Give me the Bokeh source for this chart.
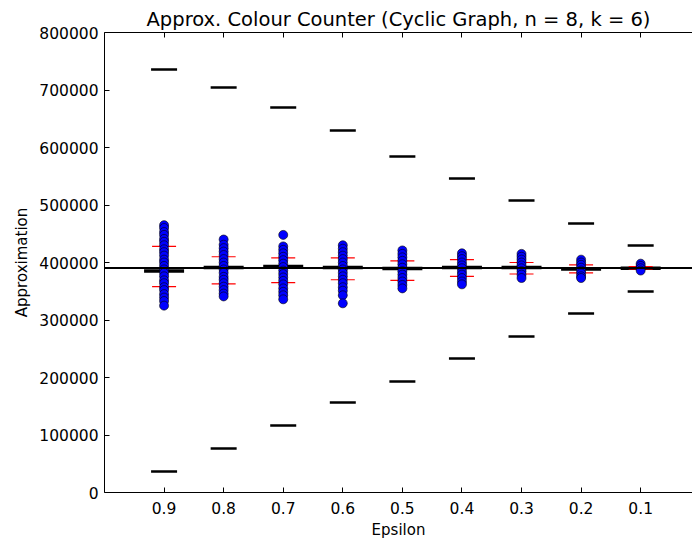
from bokeh.plotting import figure
from bokeh.models import Range1d, FixedTicker, LinearAxis, Span
from bokeh.embed import file_html
from bokeh.resources import INLINE

epsilons = [0.9, 0.8, 0.7, 0.6, 0.5, 0.4, 0.3, 0.2, 0.1]
tick_labels = ["0.9", "0.8", "0.7", "0.6", "0.5", "0.4", "0.3", "0.2", "0.1"]
true_count = 390630
upper_bound = [735600, 704300, 669600, 629600, 584300, 546100, 507800, 467800, 429600]
lower_bound = [36500, 76500, 116500, 156500, 193000, 233000, 271300, 311300, 349600]
mean_values = [385200, 391300, 393000, 391300, 389600, 391300, 391300, 388700, 390000]
std_upper = [428000, 410000, 408000, 408000, 403000, 405000, 400000, 396000, 393000]
std_lower = [358000, 363000, 365000, 370000, 369000, 376000, 380000, 382000, 389000]

samples = {
    0.9: [465000, 460000, 453000, 448000, 441000, 436000, 430000, 423000, 418000, 412000,
          405000, 400000, 394000, 388000, 382000, 376000, 369000, 364000, 357000, 352000,
          345000, 339000, 333000, 325000],
    0.8: [440000, 431000, 425000, 419000, 413000, 406000, 400000, 394000, 388000, 382000,
          375000, 370000, 364000, 358000, 352000, 346000, 341000],
    0.7: [448000, 428000, 422000, 416000, 410000, 404000, 398000, 392000, 386000, 380000,
          374000, 368000, 362000, 355000, 349000, 343000, 336000],
    0.6: [430000, 424000, 418000, 412000, 406000, 400000, 394000, 388000, 382000, 376000,
          370000, 364000, 357000, 351000, 343000, 329000],
    0.5: [421000, 415000, 409000, 403000, 397000, 391000, 385000, 379000, 373000, 367000,
          361000, 355000],
    0.4: [416000, 411000, 406000, 400000, 395000, 390000, 384000, 379000, 373000, 367000,
          362000],
    0.3: [415000, 410000, 405000, 400000, 395000, 390000, 385000, 379000, 373000],
    0.2: [405000, 400000, 396000, 391000, 386000, 381000, 376000, 373000],
    0.1: [398000, 394000, 390000, 386000],
}

xs, ys = [], []
for e in epsilons:
    for v in samples[e]:
        xs.append(e)
        ys.append(v)

p = figure(width=692, height=541, output_backend="svg", toolbar_location=None,
           x_range=Range1d(1.0, 0.013), y_range=Range1d(0, 800000),
           min_border_left=104, min_border_right=0, min_border_top=32, min_border_bottom=49,
           title="Approx. Colour Counter (Cyclic Graph, n = 8, k = 6)")

p.title.text_font = "DejaVu Sans"
p.title.text_font_size = "19.5px"
p.title.text_font_style = "normal"
p.title.text_color = "black"
p.title.align = "center"
p.title.standoff = 4
p.outline_line_color = None
p.xgrid.visible = False
p.ygrid.visible = False
p.background_fill_color = "white"
p.border_fill_color = "white"

for ax in [p.xaxis[0], p.yaxis[0]]:
    ax.major_tick_in = 5
    ax.major_tick_out = 0
    ax.minor_tick_line_color = None
    ax.axis_line_color = "black"
    ax.major_tick_line_color = "black"
    ax.major_label_text_font = "DejaVu Sans"
    ax.major_label_text_font_size = "15.5px"
    ax.major_label_text_color = "black"
    ax.axis_label_text_font = "DejaVu Sans"
    ax.axis_label_text_font_size = "15px"
    ax.axis_label_text_font_style = "normal"
    ax.axis_label_text_color = "black"

p.xaxis.ticker = FixedTicker(ticks=epsilons)
p.xaxis.major_label_overrides = {e: t for e, t in zip(epsilons, tick_labels)}
p.xaxis.axis_label = "Epsilon"
p.xaxis.major_label_standoff = 9
p.xaxis.axis_label_standoff = 4

p.yaxis.ticker = FixedTicker(ticks=[0, 100000, 200000, 300000, 400000, 500000, 600000, 700000, 800000])
p.yaxis.formatter.use_scientific = False
p.yaxis.axis_label = "Approximation"
p.yaxis.major_label_standoff = 6
p.yaxis.axis_label_standoff = 5

top = LinearAxis(ticker=FixedTicker(ticks=epsilons),
                 major_label_overrides={e: "" for e in epsilons},
                 major_tick_in=5, major_tick_out=0, minor_tick_line_color=None,
                 axis_line_color="black", major_label_standoff=0)
p.add_layout(top, "above")

p.add_layout(Span(location=true_count, dimension="width", line_color="black", line_width=2))

p.scatter(epsilons, mean_values, marker="dash", size=40, line_color="black", line_width=3.5)
p.scatter(epsilons + epsilons, std_upper + std_lower, marker="dash", size=24,
          line_color="red", line_width=1.2)
p.scatter(epsilons + epsilons, upper_bound + lower_bound, marker="dash", size=26,
          line_color="black", line_width=2.5)
p.scatter(xs, ys, marker="circle", size=9, fill_color="#0000ff", line_color="black",
          line_width=0.6)

open("out.html", "w").write(file_html(p, INLINE))
